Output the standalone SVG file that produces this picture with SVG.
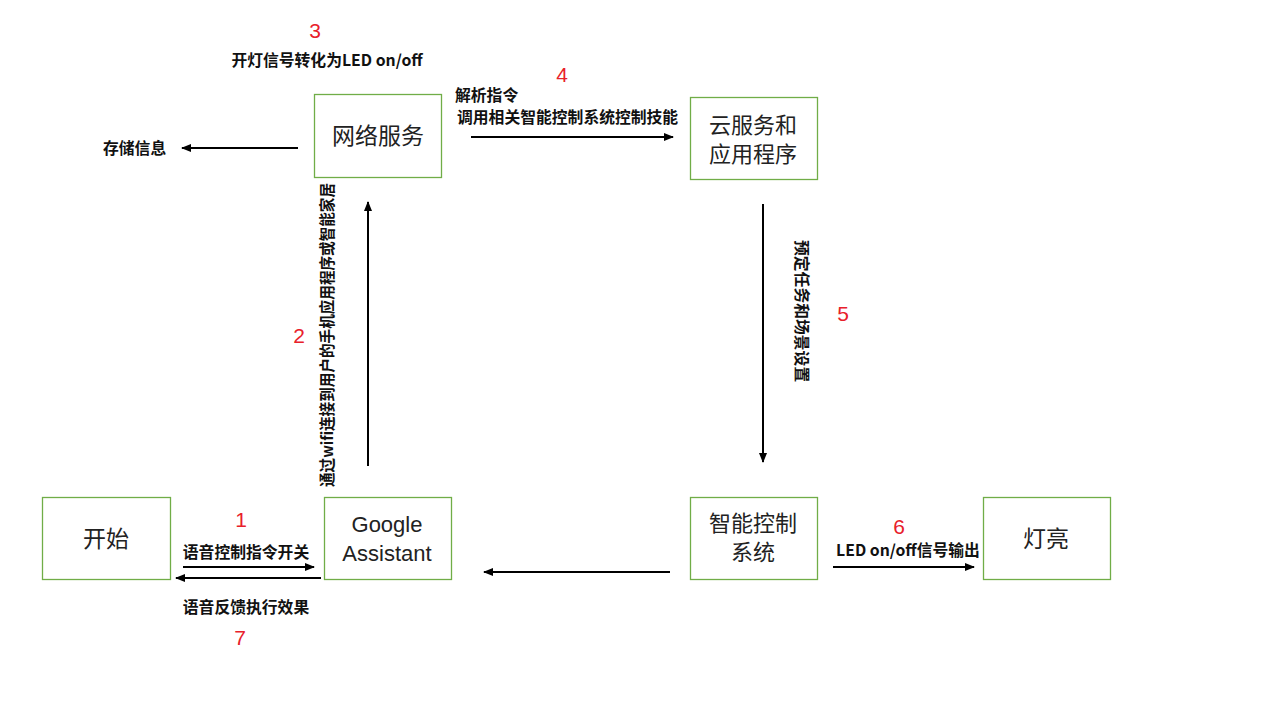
<svg xmlns="http://www.w3.org/2000/svg" width="1280" height="720" viewBox="0 0 1280 720">
<defs>
<marker id="ah" viewBox="0 0 10 10" refX="9" refY="5" markerWidth="5" markerHeight="5" orient="auto" markerUnits="strokeWidth">
<path d="M0,1 L10,5 L0,9 z" fill="#000"/>
</marker>
<style>
.box{fill:#fff;stroke:#70AD47;stroke-width:1.3}
.nt{font-family:"Liberation Sans","Noto Sans CJK SC",sans-serif;font-size:22px;fill:#222;text-anchor:middle}
.nc{font-family:"Noto Sans CJK SC",sans-serif;font-size:23px;fill:#222;text-anchor:middle}
.nc2{font-family:"Noto Sans CJK SC",sans-serif;font-size:22px;fill:#222;text-anchor:middle}
.lb{font-family:"Noto Sans CJK SC",sans-serif;font-size:15.8px;font-weight:bold;fill:#111}
.num{font-family:"Liberation Sans",sans-serif;font-size:21px;fill:#E8202A;text-anchor:middle}
.ln{stroke:#000;stroke-width:2;fill:none;marker-end:url(#ah)}
</style>
</defs>
<rect width="1280" height="720" fill="#fff"/>

<g id="start"><rect class="box" x="42.5" y="497.5" width="128" height="82"/><text class="nc" x="106" y="547">开始</text></g>
<g id="google"><rect class="box" x="324.5" y="497.5" width="127" height="82"/><text class="nt" x="387" y="532">Google</text><text class="nt" x="387" y="561">Assistant</text></g>
<g id="network"><rect class="box" x="314.5" y="94.5" width="127" height="83"/><text class="nc" x="378" y="144">网络服务</text></g>
<g id="cloud"><rect class="box" x="690.5" y="97.5" width="127" height="82"/><text class="nc2" x="753" y="133">云服务和</text><text class="nc2" x="753" y="162">应用程序</text></g>
<g id="smart"><rect class="box" x="690.5" y="497.5" width="127" height="82"/><text class="nc2" x="753" y="531">智能控制</text><text class="nc2" x="753" y="560">系统</text></g>
<g id="light"><rect class="box" x="983.5" y="497.5" width="127" height="82"/><text class="nc" x="1046" y="547">灯亮</text></g>

<g id="connectors">
<line class="ln" x1="183" y1="567" x2="314" y2="567"/>
<line class="ln" x1="321" y1="578" x2="176" y2="578"/>
<line class="ln" x1="368" y1="466" x2="368" y2="202"/>
<line class="ln" x1="298" y1="148" x2="182" y2="148"/>
<line class="ln" x1="471" y1="137" x2="673" y2="137"/>
<line class="ln" x1="763" y1="204" x2="763" y2="462"/>
<line class="ln" x1="670" y1="572" x2="484" y2="572"/>
<line class="ln" x1="833" y1="567" x2="974" y2="567"/>
</g>

<g id="labels">
<text class="num" x="315" y="38">3</text>
<text class="lb" x="327" y="66" text-anchor="middle">开灯信号转化为LED on/off</text>
<text class="lb" x="103" y="154">存储信息</text>
<text class="num" x="562" y="82">4</text>
<text class="lb" x="455" y="101">解析指令</text>
<text class="lb" x="457" y="123">调用相关智能控制系统控制技能</text>
<text class="num" x="843" y="321">5</text>
<text class="lb" transform="translate(796,240) rotate(90)" font-size="16">预定任务和场景设置</text>
<text class="num" x="299" y="343">2</text>
<text class="lb" transform="translate(333,487) rotate(-90)" font-size="13" textLength="304" lengthAdjust="spacingAndGlyphs">通过wifi连接到用户的手机应用程序或智能家居</text>
<text class="num" x="241" y="527">1</text>
<text class="lb" x="246" y="558" text-anchor="middle">语音控制指令开关</text>
<text class="lb" x="246" y="613" text-anchor="middle">语音反馈执行效果</text>
<text class="num" x="240" y="645">7</text>
<text class="num" x="899" y="534">6</text>
<text class="lb" x="908" y="556" text-anchor="middle">LED on/off信号输出</text>
</g>
</svg>
